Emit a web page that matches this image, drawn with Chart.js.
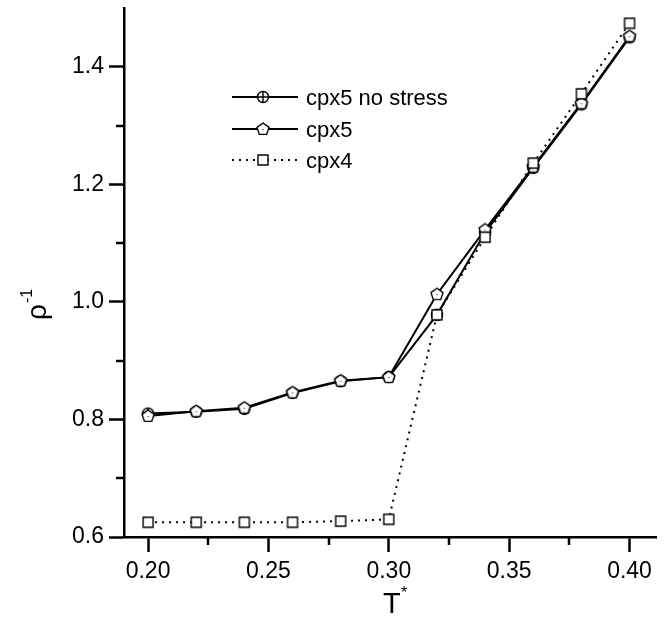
<!DOCTYPE html>
<html>
<head>
<meta charset="utf-8">
<script src="https://cdn.jsdelivr.net/npm/chart.js@4.4.1/dist/chart.umd.min.js"></script>
<style>
  body { margin: 0; background: #fff; }
  #wrap { width: 669px; height: 639px; position: relative; }
</style>
</head>
<body>
<div id="wrap"><canvas id="myChart"></canvas></div>
<script>
// temperature T*
const temps = [0.20, 0.22, 0.24, 0.26, 0.28, 0.30, 0.32, 0.34, 0.36, 0.38, 0.40];
// inverse density for each model
const cpx5NoStress = [0.810, 0.813, 0.818, 0.845, 0.865, 0.872, 0.978, 1.118, 1.228, 1.336, 1.450];
const cpx5 = [0.806, 0.814, 0.820, 0.846, 0.866, 0.872, 1.013, 1.123, 1.230, 1.338, 1.452];
const cpx4 = [0.625, 0.625, 0.625, 0.625, 0.627, 0.630, 0.978, 1.110, 1.236, 1.354, 1.474];

// axis ticks
const xMajor = [0.20, 0.25, 0.30, 0.35, 0.40];
const xMinor = [0.225, 0.275, 0.325, 0.375];
const yMajor = [0.6, 0.8, 1.0, 1.2, 1.4];
const yMinor = [0.7, 0.9, 1.1, 1.3];

const FONT = '"Liberation Sans", Arial, Helvetica, sans-serif';

// markers drawn on small canvases
function makeMarker(kind) {
  const c = document.createElement('canvas');
  c.width = 16; c.height = 16;
  const g = c.getContext('2d');
  g.fillStyle = '#fff';
  g.strokeStyle = '#000';
  g.lineWidth = 1.4;
  g.beginPath();
  if (kind === 'pent') {
    for (let k = 0; k < 5; k++) {
      const a = -Math.PI / 2 + k * 2 * Math.PI / 5;
      const px = 8 + 6.3 * Math.cos(a), py = 8.3 + 6.3 * Math.sin(a);
      if (k === 0) g.moveTo(px, py); else g.lineTo(px, py);
    }
    g.closePath();
    g.fill(); g.stroke();
    g.fillStyle = '#000';
    g.fillRect(7.5, 8, 1, 1);
  } else if (kind === 'circ') {
    g.arc(8, 8, 5.5, 0, Math.PI * 2);
    g.fill(); g.stroke();
    g.beginPath();
    g.moveTo(8, 2.5); g.lineTo(8, 13.5);
    g.moveTo(2.5, 8); g.lineTo(13.5, 8);
    g.stroke();
  } else {
    g.rect(3, 3, 10, 10);
    g.fill(); g.stroke();
  }
  return c;
}
const mCirc = makeMarker('circ');
const mPent = makeMarker('pent');
const mSq = makeMarker('sq');

function pts(ys) {
  return temps.map((t, i) => ({ x: t, y: ys[i] }));
}

const legendItems = [
  { label: 'cpx5 no stress', img: mCirc, dash: [] , w: 2, y: 97 },
  { label: 'cpx5', img: mPent, dash: [], w: 2, y: 129 },
  { label: 'cpx4', img: mSq, dash: [2, 5], w: 2, y: 160 }
];

const extras = {
  id: 'extras',
  afterDraw(chart) {
    const ctx = chart.ctx;
    const xs = chart.scales.x, ys = chart.scales.y;
    const a = chart.chartArea;
    ctx.save();
    ctx.strokeStyle = '#000';
    ctx.lineWidth = 2.5;
    // minor ticks
    xMinor.forEach(v => {
      const p = Math.round(xs.getPixelForValue(v));
      ctx.beginPath(); ctx.moveTo(p, a.bottom); ctx.lineTo(p, a.bottom + 8); ctx.stroke();
    });
    yMinor.forEach(v => {
      const p = Math.round(ys.getPixelForValue(v));
      ctx.beginPath(); ctx.moveTo(a.left, p); ctx.lineTo(a.left - 8, p); ctx.stroke();
    });

    // legend
    legendItems.forEach(it => {
      ctx.beginPath();
      ctx.setLineDash(it.dash);
      ctx.lineWidth = it.w;
      ctx.moveTo(232, it.y); ctx.lineTo(298, it.y);
      ctx.stroke();
      ctx.setLineDash([]);
      ctx.drawImage(it.img, 263 - 8, it.y - 8);
      ctx.fillStyle = '#000';
      ctx.font = '22px ' + FONT;
      ctx.textBaseline = 'middle';
      ctx.textAlign = 'left';
      ctx.fillText(it.label, 306, it.y + 2);
    });

    // axis titles
    ctx.fillStyle = '#000';
    ctx.textBaseline = 'alphabetic';
    ctx.textAlign = 'left';
    ctx.font = '29px ' + FONT;
    ctx.fillText('T', 383, 613);
    ctx.font = '16px ' + FONT;
    ctx.fillText('*', 401, 598);

    ctx.translate(46, 320);
    ctx.rotate(-Math.PI / 2);
    ctx.font = '28px ' + FONT;
    ctx.fillText('ρ', 0, 0);
    ctx.font = '16px ' + FONT;
    ctx.fillText('-1', 17, -14);
    ctx.restore();
  }
};

new Chart('myChart', {
  type: 'line',
  data: {
    datasets: [
      {
        label: 'cpx4',
        data: pts(cpx4),
        borderColor: '#000',
        borderWidth: 2,
        borderDash: [2, 5],
        pointStyle: mSq,
        order: 0
      },
      {
        label: 'cpx5',
        data: pts(cpx5),
        borderColor: '#000',
        borderWidth: 2,
        pointStyle: mPent,
        order: 1
      },
      {
        label: 'cpx5 no stress',
        data: pts(cpx5NoStress),
        borderColor: '#000',
        borderWidth: 2,
        pointStyle: mCirc,
        order: 2
      }
    ]
  },
  options: {
    responsive: true,
    maintainAspectRatio: false,
    animation: false,
    events: [],
    layout: { padding: { top: 8, right: 13, left: 0, bottom: 0 } },
    plugins: { legend: { display: false }, tooltip: { enabled: false } },
    scales: {
      x: {
        type: 'linear',
        min: 0.19,
        max: 0.411,
        afterBuildTicks: s => { s.ticks = xMajor.map(v => ({ value: v })); },
        afterFit: s => { s.height = 102; s.paddingLeft = 0; s.paddingRight = 0; },
        grid: { drawOnChartArea: false, tickLength: 15, tickWidth: 2.5, tickColor: '#000' },
        border: { color: '#000', width: 2.5 },
        ticks: {
          color: '#000',
          padding: 6,
          font: { family: FONT, size: 23 },
          callback: v => v.toFixed(2)
        }
      },
      y: {
        min: 0.6,
        max: 1.5,
        afterBuildTicks: s => { s.ticks = yMajor.map(v => ({ value: v })); },
        afterFit: s => { s.width = 124; s.paddingTop = 0; s.paddingBottom = 0; },
        grid: { drawOnChartArea: false, tickLength: 15, tickWidth: 2.5, tickColor: '#000' },
        border: { color: '#000', width: 2.5 },
        ticks: {
          color: '#000',
          padding: 5,
          font: { family: FONT, size: 23 },
          callback: v => v.toFixed(1)
        }
      }
    }
  },
  plugins: [extras]
});
</script>
</body>
</html>
